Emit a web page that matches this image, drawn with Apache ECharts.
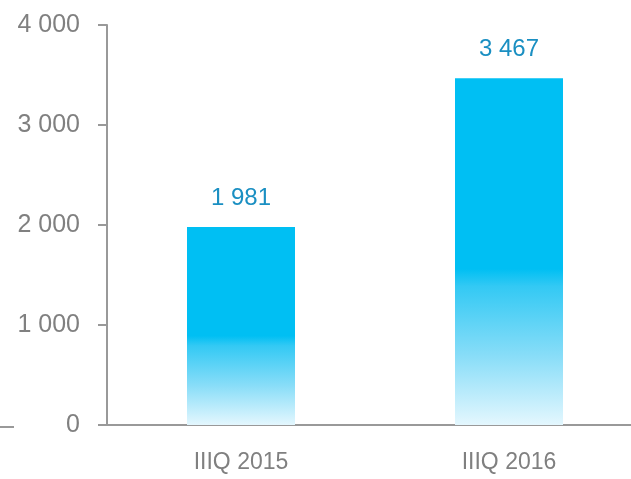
<!DOCTYPE html>
<html>
<head>
<meta charset="utf-8">
<script src="https://cdn.jsdelivr.net/npm/echarts@6/dist/echarts.min.js"></script>
<style>html,body{margin:0;padding:0;background:#fff;}#c{width:631px;height:479px;}</style>
</head>
<body>
<div id="c"></div>
<script>
const categories = ['IIIQ 2015', 'IIIQ 2016'];
const values = [1981, 3467];
const yTicks = [0, 1000, 2000, 3000, 4000];

const FONT = "'Liberation Sans', Arial, sans-serif";
const fmt = v => String(v).replace(/\B(?=(\d{3})+(?!\d))/g, ' ');
const chart = echarts.init(document.getElementById('c'), null, {renderer: 'canvas'});
const grad = new echarts.graphic.LinearGradient(0, 0, 0, 1, [
  {offset: 0, color: '#00bff3'},
  {offset: 0.55, color: '#00bff3'},
  {offset: 0.6, color: '#33c9f4'},
  {offset: 0.8, color: '#88ddf8'},
  {offset: 1, color: '#e4f7fe'}
]);
chart.setOption({
  animation: false,
  grid: {left: 107, width: 536, top: 25, bottom: 54, containLabel: false, outerBoundsMode: 'none'},
  xAxis: {
    type: 'category',
    data: categories,
    axisLine: {show: true, lineStyle: {color: '#999999', width: 2}},
    axisTick: {show: false},
    axisLabel: {color: '#808080', fontSize: 23, fontFamily: FONT, margin: 26}
  },
  yAxis: {
    type: 'value',
    min: yTicks[0],
    max: yTicks[yTicks.length - 1],
    interval: 1000,
    axisLine: {show: true, lineStyle: {color: '#999999', width: 2}},
    axisTick: {show: true, length: 9, lineStyle: {color: '#999999', width: 2}},
    splitLine: {show: false},
    axisLabel: {
      color: '#808080', fontSize: 25, fontFamily: FONT, margin: 27,
      formatter: v => fmt(v)
    }
  },
  series: [{
    type: 'bar',
    data: values,
    barWidth: 108,
    itemStyle: {color: grad},
    label: {
      show: true, position: 'top', distance: 17,
      color: '#1a8fc2', fontSize: 24, fontFamily: FONT,
      formatter: p => fmt(p.value)
    }
  }],
  graphic: [{
    type: 'line',
    shape: {x1: 0, y1: 427, x2: 14, y2: 427},
    style: {stroke: '#999999', lineWidth: 2}
  }]
});
</script>
</body>
</html>
